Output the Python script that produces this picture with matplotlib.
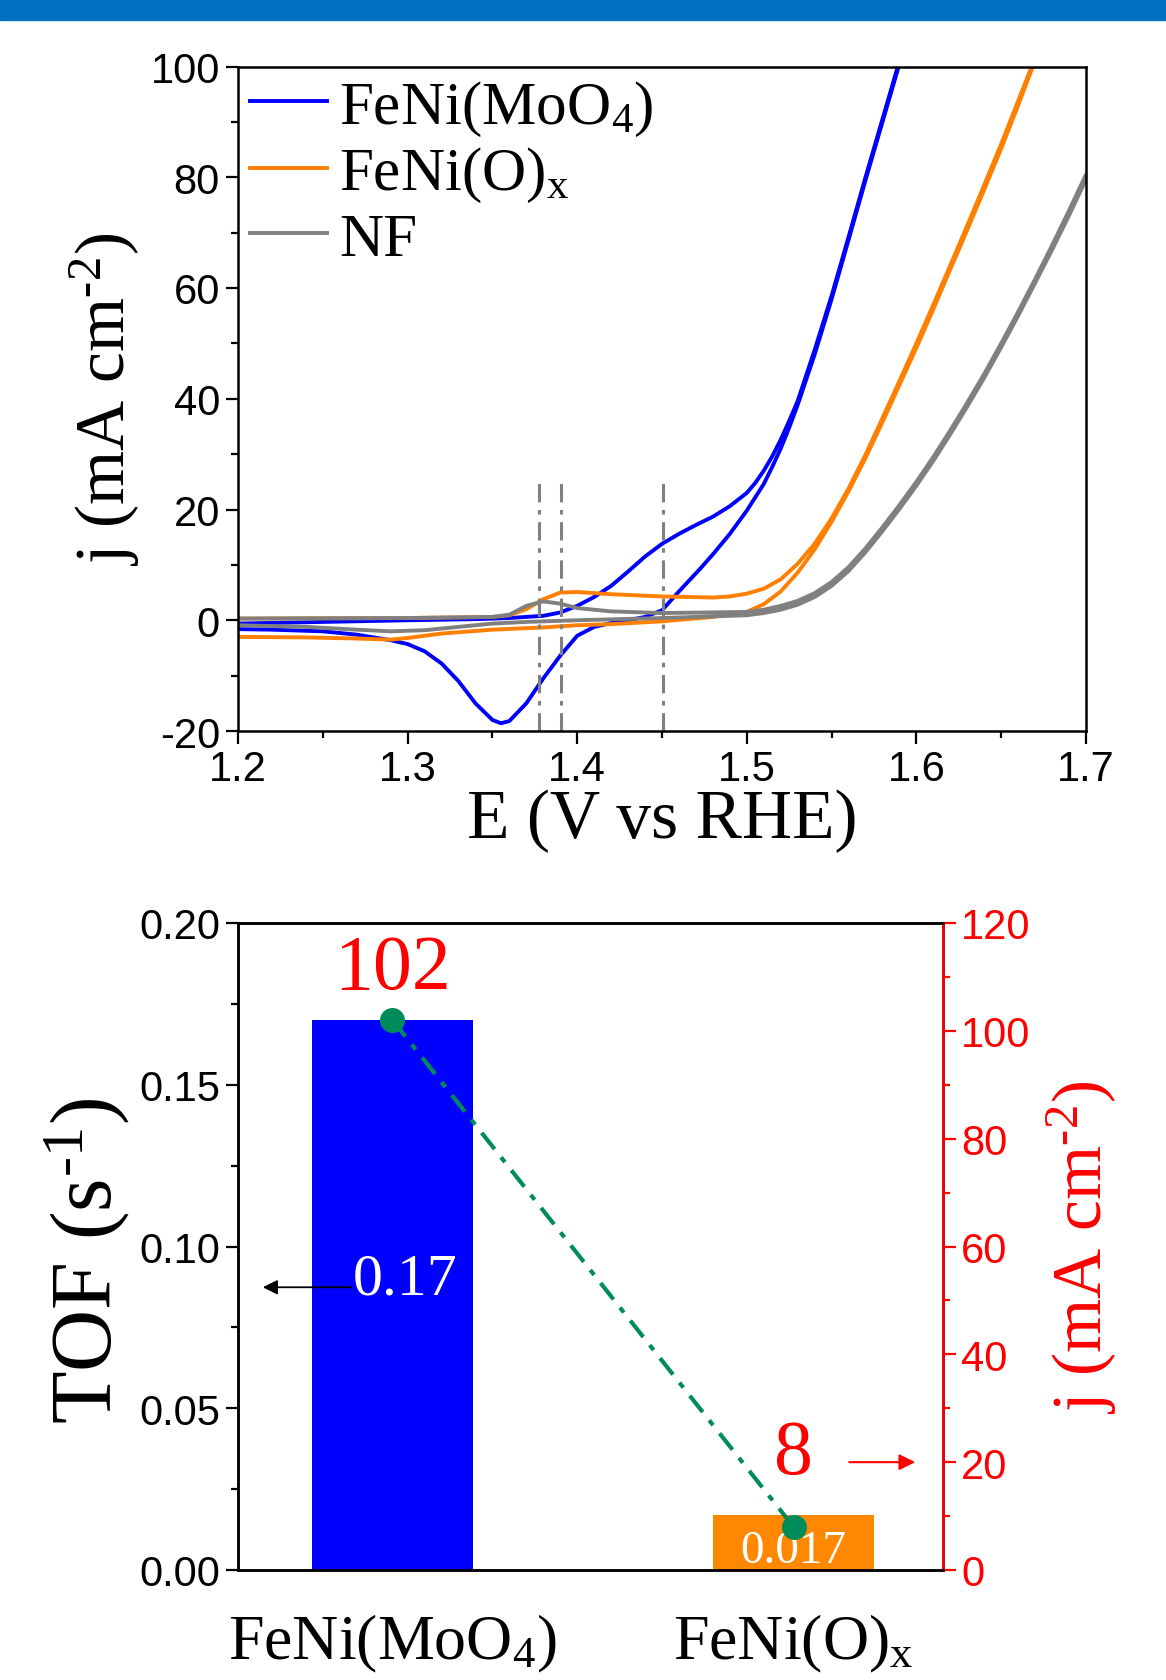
import matplotlib
matplotlib.use("Agg")
import matplotlib.pyplot as plt
from matplotlib.patches import Rectangle
from matplotlib.ticker import MultipleLocator

plt.rcParams['font.family'] = ['Liberation Serif', 'DejaVu Serif']
plt.rcParams['mathtext.fontset'] = 'custom'
plt.rcParams['mathtext.rm'] = 'Liberation Serif'
plt.rcParams['mathtext.it'] = 'Liberation Serif:italic'
plt.rcParams['mathtext.default'] = 'rm'

SANS = ['Liberation Sans', 'DejaVu Sans']

# ---------------- data: CV curves (E in V vs RHE, j in mA cm-2) ----------------
blue_fwd_E = [1.20, 1.25, 1.30, 1.34, 1.36, 1.38, 1.39, 1.40, 1.41, 1.42, 1.43, 1.44, 1.45,
              1.46, 1.47, 1.48, 1.49, 1.50, 1.505, 1.51, 1.515, 1.52, 1.525, 1.53, 1.54, 1.55,
              1.56, 1.57, 1.58, 1.59, 1.592]
blue_fwd_j = [-0.6, -0.3, 0.0, 0.2, 0.4, 0.8, 1.4, 2.6, 4.2, 6.2, 8.8, 11.5, 13.8,
              15.6, 17.2, 18.7, 20.6, 23.0, 24.8, 27.0, 29.6, 32.6, 36.0, 39.6, 48.8, 58.6,
              69.2, 80.0, 90.5, 101.0, 103.0]
blue_rev_E = [1.592, 1.59, 1.58, 1.57, 1.56, 1.55, 1.54, 1.53, 1.525, 1.52, 1.515, 1.51, 1.50,
              1.49, 1.48, 1.4725, 1.46, 1.45, 1.44, 1.43, 1.42, 1.41, 1.40, 1.39, 1.38, 1.37,
              1.36, 1.355, 1.35, 1.34, 1.33, 1.32, 1.31, 1.30, 1.29, 1.27, 1.25, 1.22, 1.20]
blue_rev_j = [102.5, 100.5, 90.0, 79.5, 68.7, 58.0, 48.0, 38.9, 34.8, 31.0, 27.7, 24.6, 19.8,
              15.6, 11.9, 9.3, 5.2, 1.8, 0.6, 0.0, -0.5, -1.2, -2.8, -6.4, -10.5, -15.0,
              -18.2, -18.6, -18.0, -15.0, -11.0, -7.8, -5.6, -4.3, -3.6, -2.6, -2.0, -1.7, -1.6]

orange_fwd_E = [1.20, 1.30, 1.35, 1.36, 1.37, 1.38, 1.39, 1.40, 1.42, 1.45, 1.48, 1.49, 1.50, 1.51,
                1.52, 1.53, 1.54, 1.55, 1.56, 1.57, 1.58, 1.59, 1.60, 1.61, 1.62, 1.63, 1.64, 1.65,
                1.66, 1.668, 1.671]
orange_fwd_j = [0.3, 0.4, 0.6, 0.9, 2.0, 3.8, 5.0, 5.1, 4.7, 4.3, 4.1, 4.3, 4.8, 5.7,
                7.4, 10.2, 13.8, 18.4, 23.8, 29.9, 36.5, 43.2, 50.0, 57.0, 64.1, 71.3, 78.6, 86.0,
                93.8, 100.0, 102.5]
orange_rev_E = [1.671, 1.668, 1.66, 1.65, 1.64, 1.63, 1.62, 1.61, 1.60, 1.59, 1.58, 1.57, 1.56,
                1.55, 1.54, 1.53, 1.52, 1.51, 1.50, 1.48, 1.45, 1.42, 1.40, 1.38, 1.35, 1.32, 1.30,
                1.29, 1.27, 1.24, 1.20]
orange_rev_j = [102.0, 99.5, 93.0, 85.2, 77.8, 70.5, 63.4, 56.2, 49.2, 42.5, 35.8, 29.3, 23.3,
                17.8, 12.8, 8.6, 5.2, 2.9, 1.5, 0.6, -0.2, -0.7, -0.9, -1.3, -1.7, -2.4, -3.2,
                -3.5, -3.3, -3.1, -3.0]

grey_fwd_E = [1.20, 1.30, 1.35, 1.36, 1.37, 1.38, 1.39, 1.40, 1.42, 1.45, 1.50, 1.51, 1.52, 1.53,
              1.54, 1.55, 1.56, 1.57, 1.58, 1.59, 1.60, 1.61, 1.62, 1.63, 1.64, 1.65, 1.66, 1.67,
              1.68, 1.69, 1.70]
grey_fwd_j = [0.3, 0.4, 0.6, 1.0, 2.6, 3.4, 3.0, 2.2, 1.6, 1.3, 1.5, 1.9, 2.6, 3.5,
              4.9, 6.9, 9.6, 13.0, 16.8, 20.8, 25.0, 29.5, 34.3, 39.3, 44.5, 50.0, 55.7, 61.6,
              67.7, 74.0, 80.5]
grey_rev_E = [1.70, 1.69, 1.68, 1.67, 1.66, 1.65, 1.64, 1.63, 1.62, 1.61, 1.60, 1.59, 1.58, 1.57,
              1.56, 1.55, 1.54, 1.53, 1.52, 1.51, 1.50, 1.45, 1.40, 1.37, 1.35, 1.33, 1.31, 1.29,
              1.27, 1.24, 1.20]
grey_rev_j = [79.6, 73.1, 66.9, 60.9, 55.0, 49.3, 43.8, 38.6, 33.6, 28.8, 24.3, 20.1, 16.1, 12.3,
              8.9, 6.2, 4.2, 2.8, 1.9, 1.3, 0.9, 0.4, 0.0, -0.3, -0.6, -1.2, -1.8, -2.0,
              -1.7, -1.2, -0.9]

peak_lines_E = [1.3775, 1.3905, 1.4503]

cv_labels = ['FeNi(MoO$_4$)', 'FeNi(O)$_x$', 'NF']
cv_colors = ['#0000FF', '#FF7F00', '#808080']

E_ticks = [1.2, 1.3, 1.4, 1.5, 1.6, 1.7]
j_ticks = [-20, 0, 20, 40, 60, 80, 100]

# ---------------- data: TOF / current bars ----------------
samples = ['FeNi(MoO$_4$)', 'FeNi(O)$_x$']
tof = [0.17, 0.017]
j_at = [102, 8]
tof_labels = ['0.17', '0.017']
bar_colors = ['#0000FF', '#FF8800']
tof_ticks = [0.00, 0.05, 0.10, 0.15, 0.20]
jr_ticks = [0, 20, 40, 60, 80, 100, 120]

HY = '\u2010'  # hyphen used in the superscripts

# ---------------- figure ----------------
W, H = 1166, 1681
fig = plt.figure(figsize=(W / 100, H / 100), dpi=100)
fig.patches.append(Rectangle((0, 1 - 21 / H), 1, 21 / H, transform=fig.transFigure,
                             color='#0070C0', zorder=0))

TICK_FS = 30

# ---- top: CV ----
ax = fig.add_axes([238 / W, 1 - 732 / H, (1086 - 238) / W, (732 - 67.5) / H])
curves = [(blue_fwd_E, blue_fwd_j, blue_rev_E, blue_rev_j),
          (orange_fwd_E, orange_fwd_j, orange_rev_E, orange_rev_j),
          (grey_fwd_E, grey_fwd_j, grey_rev_E, grey_rev_j)]
handles = []
for (fe, fj, re_, rj), c, lab in zip(curves, cv_colors, cv_labels):
    h, = ax.plot(fe + re_, fj + rj, color=c, lw=2.8, label=lab, solid_joinstyle='round')
    handles.append(h)
ax.vlines(peak_lines_E, -20, 25.6, colors='#808080', linestyles=(0, (6, 2.5, 1.5, 2.5)), lw=2.2)
ax.set_xlim(1.2, 1.7)
ax.set_ylim(-20, 100)
ax.set_xticks(E_ticks)
ax.set_xticklabels([f'{v:.1f}' for v in E_ticks], family=SANS)
ax.xaxis.set_minor_locator(MultipleLocator(0.05))
ax.set_yticks(j_ticks)
ax.set_yticklabels([str(v) for v in j_ticks], family=SANS)
ax.yaxis.set_minor_locator(MultipleLocator(10))
ax.tick_params(which='both', direction='out', width=1.6, top=False, right=False)
ax.tick_params(which='major', length=9)
ax.tick_params(which='minor', length=5)
ax.tick_params(labelsize=TICK_FS, pad=4)
for s in ax.spines.values():
    s.set_linewidth(1.8)
ax.set_xlabel('E (V vs RHE)', fontsize=50, labelpad=0)
ax.set_ylabel('j (mA cm$^{' + HY + '2}$)', fontsize=50, labelpad=6)
ax.legend(handles=handles, loc='upper left', frameon=False, fontsize=44,
          handlelength=1.25, handletextpad=0.2, labelspacing=0.12, borderaxespad=0.15,
          borderpad=0.05)

# ---- bottom: TOF bars + j ----
bx = fig.add_axes([238 / W, 1 - 1571 / H, (943 - 238) / W, (1571 - 924) / H])
xpos = [0, 1]
bx.bar(xpos, tof, width=0.4, color=bar_colors, zorder=1)
bx.set_xlim(-0.385, 1.3725)
bx.set_ylim(0, 0.20)
bx.set_yticks(tof_ticks)
bx.set_yticklabels([f'{v:.2f}' for v in tof_ticks], family=SANS)
bx.yaxis.set_minor_locator(MultipleLocator(0.025))
bx.set_xticks(xpos)
bx.set_xticklabels(samples, fontsize=46)
bx.tick_params(axis='x', length=0, pad=30)
bx.tick_params(axis='y', which='both', direction='out', width=1.6, labelsize=TICK_FS, pad=4)
bx.tick_params(axis='y', which='major', length=9)
bx.tick_params(axis='y', which='minor', length=5)
for s in bx.spines.values():
    s.set_linewidth(1.8)
bx.set_ylabel('TOF (s$^{' + HY + '1}$)', fontsize=62)
bx.yaxis.set_label_coords(-0.15, 0.48)

bx.text(0.032, 0.0897, tof_labels[0], color='white', fontsize=43,
        ha='center', va='center', zorder=3)
bx.text(1.0, 0.0058, tof_labels[1], color='white', fontsize=34,
        ha='center', va='center', zorder=3)
bx.annotate('', xy=(-0.33, 0.0874), xytext=(-0.096, 0.0874),
            arrowprops=dict(arrowstyle='-|>', color='black', lw=1.3, mutation_scale=22))

tx = bx.twinx()
tx.plot(xpos, j_at, color='#008C5A', lw=3, linestyle=(0, (5, 2.5, 1.5, 2.5)),
        marker='o', markersize=17, zorder=4)
tx.set_ylim(0, 120)
tx.set_yticks(jr_ticks)
tx.set_yticklabels([str(v) for v in jr_ticks], family=SANS)
tx.yaxis.set_minor_locator(MultipleLocator(10))
tx.tick_params(axis='y', which='both', direction='out', width=1.6, colors='red',
               labelsize=TICK_FS, pad=4)
tx.tick_params(axis='y', which='major', length=9)
tx.tick_params(axis='y', which='minor', length=5)
for k, s in tx.spines.items():
    s.set_linewidth(1.8)
tx.spines['right'].set_color('red')
tx.set_ylabel('j (mA cm$^{' + HY + '2}$)', fontsize=50, color='red', labelpad=10)
tx.text(0, 111.5, str(j_at[0]), color='red', fontsize=56, ha='center', va='center')
tx.text(1, 21.5, str(j_at[1]), color='red', fontsize=56, ha='center', va='center')
tx.annotate('', xy=(1.31, 20), xytext=(1.132, 20),
            arrowprops=dict(arrowstyle='-|>', color='red', lw=1.5, mutation_scale=24))

fig.savefig('out.png', dpi=100)
